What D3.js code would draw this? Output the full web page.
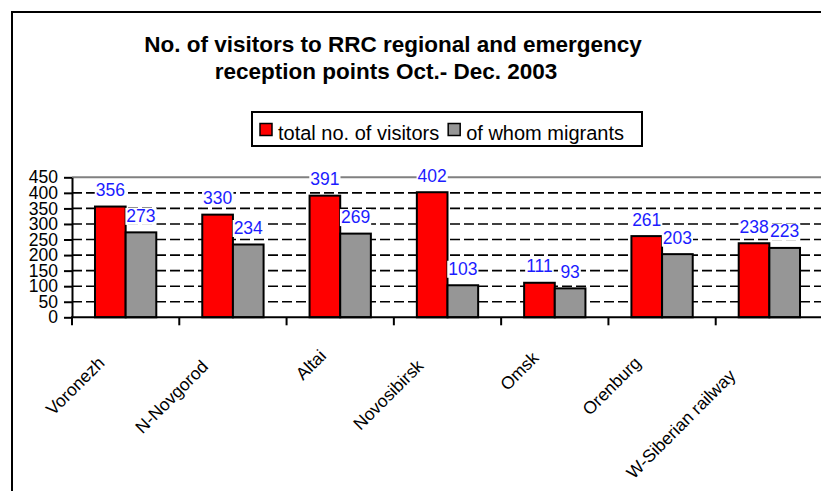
<!DOCTYPE html>
<html><head><meta charset="utf-8">
<script src="https://cdn.jsdelivr.net/npm/d3@7"></script>
<style>body{margin:0;background:#fff;} svg{display:block;font-family:"Liberation Sans",Arial,sans-serif;}</style>
</head><body><svg id="c" width="821" height="491"></svg>
<script>
const categories = ["Voronezh","N-Novgorod","Altai","Novosibirsk","Omsk","Orenburg","W-Siberian railway"];
const seriesNames = ["total no. of visitors","of whom migrants"];
const totalVisitors = [356,330,391,402,111,261,238];
const migrants = [273,234,269,103,93,203,223];
const yTicks = [0,50,100,150,200,250,300,350,400,450];
const titleLines = ["No. of visitors to RRC regional and emergency","reception points Oct.- Dec. 2003"];
const seriesColors = ["#ff0000","#969696"];

const series = [totalVisitors, migrants];
const svg = d3.select("#c");
svg.append("rect").attr("width",821).attr("height",491).attr("fill","#fff");
// chart area frame
svg.append("path").attr("d","M12,491V12H821").attr("fill","none").attr("stroke","#000").attr("stroke-width",2);

// title
const titleX = [393,386], titleY = [51.5,79];
titleLines.forEach((t,i)=>{
  svg.append("text").attr("x",titleX[i]).attr("y",titleY[i]).attr("text-anchor","middle")
    .attr("font-size","22.5px").attr("font-weight","bold").attr("fill","#000").text(t);
});

// legend
const lg = svg.append("g");
lg.append("rect").attr("x",252).attr("y",112).attr("width",390).attr("height",34)
  .attr("fill","#fff").attr("stroke","#000").attr("stroke-width",2);
let lx = 260;
seriesNames.forEach((n,i)=>{
  lg.append("rect").attr("x",lx).attr("y",123.5).attr("width",12).attr("height",12)
    .attr("fill",seriesColors[i]).attr("stroke","#000").attr("stroke-width",1.5);
  const t = lg.append("text").attr("x",lx+18).attr("y",139.5).attr("font-size","20px").attr("fill","#000").text(n);
  lx = lx + 18 + t.node().getComputedTextLength() + 9;
});

// scales
const x0 = d3.scaleBand().domain(categories).range([72,823]).padding(0);
const x1 = d3.scaleBand().domain([0,1]).range([0,x0.bandwidth()]).paddingInner(0).paddingOuter(0.75);
const y = d3.scaleLinear().domain([0,450]).range([317.3,177.3]);

// gridlines
const grid = svg.append("g");
yTicks.filter(v=>v>0).forEach(v=>{
  const top = v===450;
  grid.append("line").attr("x1",72).attr("x2",823).attr("y1",y(v)).attr("y2",y(v))
    .attr("stroke", top ? "#808080" : "#000").attr("stroke-width", top ? 2 : 1.6)
    .attr("stroke-dasharray", top ? null : "10,4");
});

// bars
const bars = svg.append("g");
categories.forEach((c,ci)=>{
  series.forEach((s,si)=>{
    bars.append("rect").attr("x",x0(c)+x1(si)).attr("y",y(s[ci]))
      .attr("width",x1.bandwidth()).attr("height",y(0)-y(s[ci]))
      .attr("fill",seriesColors[si]).attr("stroke","#000").attr("stroke-width",2);
  });
});

// y axis
const ya = svg.append("g").attr("transform","translate(72,0)")
  .call(d3.axisLeft(y).tickValues(yTicks).tickSize(8).tickSizeOuter(0).tickPadding(6));
ya.select(".domain").attr("stroke","#000").attr("stroke-width",2);
ya.selectAll(".tick line").attr("stroke","#000").attr("stroke-width",2);
ya.selectAll(".tick text").attr("font-size","17.5px").attr("fill","#000").attr("font-family","Liberation Sans, Arial, sans-serif");

// x axis
svg.append("line").attr("x1",71).attr("x2",823).attr("y1",y(0)).attr("y2",y(0)).attr("stroke","#000").attr("stroke-width",2);
categories.forEach(c=>{
  svg.append("line").attr("x1",x0(c)).attr("x2",x0(c)).attr("y1",y(0)).attr("y2",y(0)+8)
    .attr("stroke","#000").attr("stroke-width",2);
});

// x labels rotated
const xl = svg.append("g");
categories.forEach(c=>{
  const cx = x0(c) + x0.bandwidth()/2;
  const t = xl.append("text").attr("font-size","17.5px").attr("fill","#000").attr("text-anchor","end").text(c);
  const L = t.node().getComputedTextLength();
  const g = 7 + 0.25*L*Math.SQRT1_2;
  t.attr("transform",`translate(${cx-g},${344+g}) rotate(-45)`);
});

// data labels
const dl = svg.append("g");
categories.forEach((c,ci)=>{
  series.forEach((s,si)=>{
    const bx = x0(c)+x1(si)+x1.bandwidth()/2;
    const gg = dl.append("g");
    const r = gg.append("rect").attr("fill","#fff");
    const t = gg.append("text").attr("x",bx).attr("y",y(s[ci])-10.5).attr("text-anchor","middle")
      .attr("font-size","17.5px").attr("fill","#1c1cff").text(s[ci]);
    const b = t.node().getBBox();
    r.attr("x",b.x-1).attr("y",b.y+2).attr("width",b.width+2).attr("height",b.height-3);
  });
});
</script></body></html>
